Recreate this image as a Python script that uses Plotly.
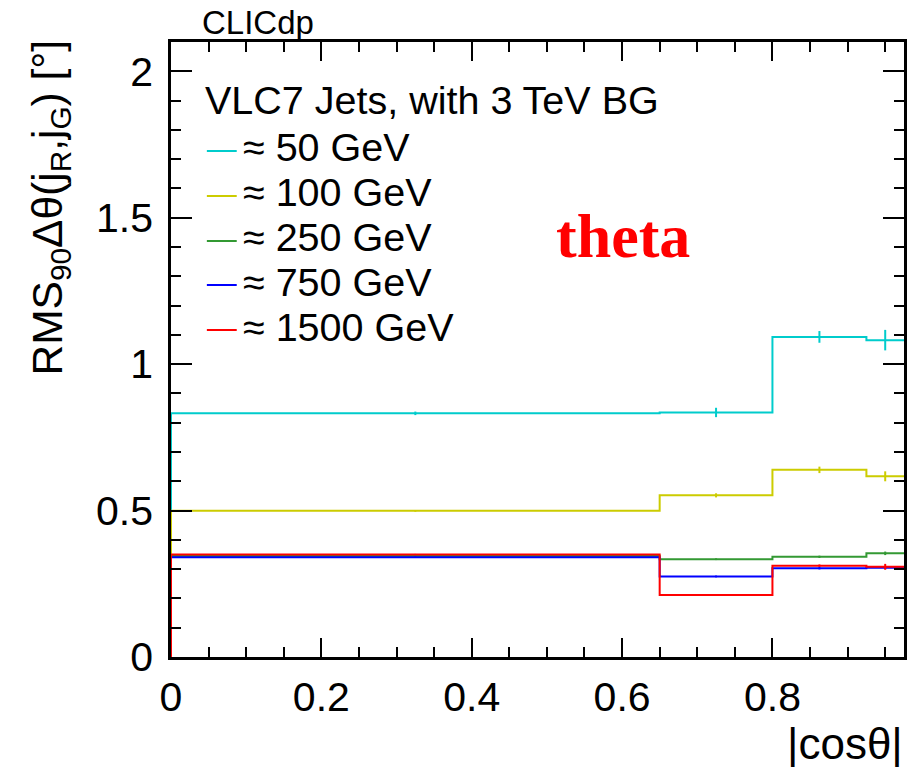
import plotly.graph_objects as go

# |cos(theta)| binning and RMS90 of the jet polar-angle difference
bin_edges = [0.0, 0.65, 0.8, 0.925, 0.975]
bin_centers = [0.325, 0.725, 0.8625, 0.95]

labels = ["≈ 50 GeV", "≈ 100 GeV", "≈ 250 GeV", "≈ 750 GeV", "≈ 1500 GeV"]
colors = ["#00cccc", "#cccc00", "#339933", "#0000ff", "#ff0000"]

rms_50 = [0.832, 0.835, 1.093, 1.082]
rms_100 = [0.499, 0.552, 0.639, 0.617]
rms_250 = [0.345, 0.334, 0.342, 0.354]
rms_750 = [0.341, 0.275, 0.303, 0.305]
rms_1500 = [0.350, 0.212, 0.312, 0.308]

err_50 = [0.006, 0.016, 0.020, 0.035]
err_100 = [0.003, 0.007, 0.011, 0.017]
err_250 = [0.002, 0.003, 0.004, 0.006]
err_750 = [0.002, 0.003, 0.004, 0.005]
err_1500 = [0.002, 0.003, 0.004, 0.010]

series = [rms_50, rms_100, rms_250, rms_750, rms_1500]
errors = [err_50, err_100, err_250, err_750, err_1500]

x_ticks = [0, 0.2, 0.4, 0.6, 0.8]
y_ticks = [0, 0.5, 1, 1.5, 2]

FONT = "Liberation Sans"
W, H = 908, 767
L, R, T, B = 171, 1, 42, 110
PW, PH = W - L - R, H - T - B


def px(x):
    return (x - L) / PW


def py(y):
    return (H - B - y) / PH


fig = go.Figure()

for vals, errs, col in zip(series, errors, colors):
    # histogram outline: rise from zero at the first edge, then step across bins
    xs = [bin_edges[0]] + bin_edges[:-1] + [bin_edges[-1]]
    ys = [0.0] + vals + [vals[-1]]
    fig.add_trace(go.Scatter(
        x=xs, y=ys, mode="lines", line=dict(color=col, width=2, shape="hv"),
        showlegend=False, hoverinfo="skip"))
    fig.add_trace(go.Scatter(
        x=bin_centers, y=vals, mode="markers",
        marker=dict(size=4, color=col, opacity=0),
        error_y=dict(type="data", array=errs, color=col, thickness=2, width=0),
        showlegend=False, hoverinfo="skip"))

axis_common = dict(
    showgrid=False, zeroline=False, showline=True, linecolor="black",
    linewidth=2.5, mirror="allticks", ticks="inside", tickcolor="black",
    tickwidth=2, tickfont=dict(family=FONT, size=41, color="black"),
)

fig.update_xaxes(
    range=[0, 0.975], tickvals=x_ticks, ticktext=[f"{v:g}" for v in x_ticks],
    ticklen=19, ticklabelstandoff=2,
    minor=dict(ticks="inside", dtick=0.05, ticklen=10, tickwidth=2, tickcolor="black"),
    **axis_common)
fig.update_yaxes(
    range=[0, 2.1], tickvals=y_ticks, ticktext=[f"{v:g}" for v in y_ticks],
    ticklen=21, ticklabelstandoff=7,
    minor=dict(ticks="inside", dtick=0.1, ticklen=10, tickwidth=2, tickcolor="black"),
    **axis_common)

annotations = [
    dict(text="CLICdp", x=px(200), y=py(23), xanchor="left", yanchor="middle",
         font=dict(family=FONT, size=33, color="black")),
    dict(text="|cosθ|", x=px(908), y=py(743), xanchor="right", yanchor="middle",
         font=dict(family=FONT, size=44, color="black")),
    dict(text="RMS<sub>90</sub>Δθ(j<sub>R</sub>,j<sub>G</sub>) [°]", x=px(50), y=py(37),
         xanchor="center", yanchor="top", textangle=-90,
         font=dict(family=FONT, size=42.5, color="black")),
    dict(text="VLC7 Jets, with 3 TeV BG", x=px(203), y=py(100), xanchor="left",
         yanchor="middle", font=dict(family=FONT, size=39.5, color="black")),
    dict(text="<b>theta</b>", x=px(625), y=py(236), xanchor="center", yanchor="middle",
         font=dict(family="Liberation Serif", size=62, color="#ff0000")),
]

shapes = []
text_rows = [147, 192, 237, 282, 327]
line_rows = [151, 196, 241, 285, 330]
for lab, col, ty, ly in zip(labels, colors, text_rows, line_rows):
    annotations.append(dict(text=lab, x=px(241), y=py(ty), xanchor="left", yanchor="middle",
                            font=dict(family=FONT, size=39.5, color="black")))
    shapes.append(dict(type="line", xref="paper", yref="paper", x0=px(207), x1=px(237),
                       y0=py(ly), y1=py(ly), line=dict(color=col, width=2)))

for a in annotations:
    a.update(xref="paper", yref="paper", showarrow=False)

fig.update_layout(
    width=W, height=H, margin=dict(l=L, r=R, t=T, b=B),
    paper_bgcolor="white", plot_bgcolor="white",
    annotations=annotations, shapes=shapes, showlegend=False,
)

fig.write_html("out.html")
